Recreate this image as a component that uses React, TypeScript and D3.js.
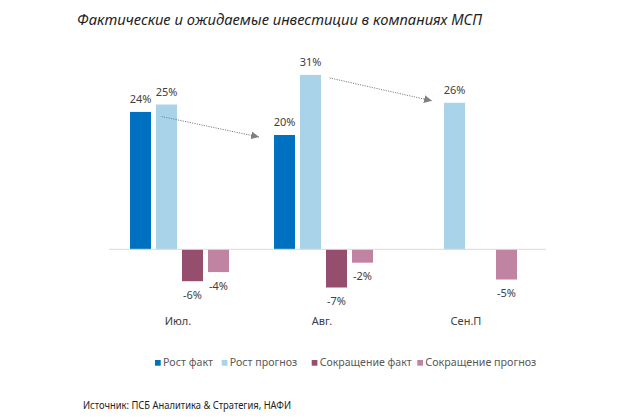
import * as d3 from "d3";

const categories = ["Июл.", "Авг.", "Сен.П"];
const seriesNames = ["Рост факт", "Рост прогноз", "Сокращение факт", "Сокращение прогноз"];
const seriesColors = ["#0070c0", "#a9d3e8", "#964e6e", "#c084a2"];
// values per category, in % (null = no bar)
const rostFakt = [24.1, 20.05, null];
const rostPrognoz = [25.4, 30.6, 25.7];
const sokrFakt = [-5.6, -6.7, null];
const sokrPrognoz = [-4.0, -2.35, -5.3];
const seriesValues = [rostFakt, rostPrognoz, sokrFakt, sokrPrognoz];

// dotted trend arrows: from (category, series) to (category, series)
const arrows = [
  { from: [0, 1], to: [1, 0], dx0: -5, dy0: 12, dx1: -15, dy1: 2 },
  { from: [1, 1], to: [2, 1], dx0: 19, dy0: 3, dx1: -12, dy1: -2 },
];

export default function App() {
  const W = 623;
  const H = 418;

  const x0 = d3.scaleBand<string>().domain(categories).range([107.5, 539.5]);
  const x1 = d3
    .scaleBand<string>()
    .domain(seriesNames)
    .range([22.5, 121.5])
    .paddingInner(0.192);
  const y = d3.scaleLinear().domain([-8, 33]).range([294.9, 61.2]);
  const bw = x1.bandwidth();

  const bars: any[] = [];
  seriesValues.forEach((vals, si) => {
    vals.forEach((v, ci) => {
      if (v == null) return;
      bars.push({ s: seriesNames[si], si, c: categories[ci], v });
    });
  });

  const barX = (ci: number, si: number) => x0(categories[ci])! + x1(seriesNames[si])!;

  const labelFont = "'Noto Sans', 'Open Sans', sans-serif";

  // legend layout
  const legendX = [155, 221.7, 311.7, 417.3];
  const legendW = [50, 67.5, 92, 111];

  return (
    <svg
      width={W}
      height={H}
      style={{ position: "absolute", left: 0, top: 0, background: "#fff" }}
    >
      <defs>
        <marker
          id="arr"
          viewBox="0 0 10 10"
          refX="10"
          refY="5"
          markerWidth="8"
          markerHeight="8"
          markerUnits="userSpaceOnUse"
          orient="auto"
        >
          <path d="M0,0 L10,5 L0,10 z" fill="#7f7f7f" />
        </marker>
      </defs>
      <rect width={W} height={H} fill="#fff" />
      <text
        x={77}
        y={24.5}
        fontFamily={labelFont}
        fontStyle="italic"
        fontSize={14}
        fill="#1e1e1e"
        textLength={405}
        lengthAdjust="spacingAndGlyphs"
      >
        Фактические и ожидаемые инвестиции в компаниях МСП
      </text>

      {bars.map((b, i) => {
        const bx = x0(b.c)! + x1(b.s)!;
        const y0 = y(0);
        const yv = y(b.v);
        return (
          <g key={i}>
            <rect
              x={bx}
              width={bw}
              y={Math.min(y0, yv)}
              height={Math.abs(yv - y0)}
              fill={seriesColors[b.si]}
            />
            <text
              x={bx + bw / 2}
              y={b.v >= 0 ? yv - 9 : yv + 17.5}
              textAnchor="middle"
              fontFamily={labelFont}
              fontSize={11}
              fill="#404040"
            >
              {Math.round(b.v)}%
            </text>
          </g>
        );
      })}

      <line x1={109} x2={546} y1={y(0)} y2={y(0)} stroke="#d9d9d9" strokeWidth={1} />

      {categories.map((c) => (
        <text
          key={c}
          x={x0(c)! + x0.bandwidth() / 2 - 1.5}
          y={324.5}
          textAnchor="middle"
          fontFamily={labelFont}
          fontSize={11}
          fill="#404040"
        >
          {c}
        </text>
      ))}

      {arrows.map((a, i) => {
        const [fc, fs] = a.from;
        const [tc, ts] = a.to;
        const xs = barX(fc, fs) + bw / 2 + a.dx0;
        const ys = y(seriesValues[fs][fc]!) + a.dy0;
        const xe = barX(tc, ts) + a.dx1;
        const ye = y(seriesValues[ts][tc]!) + a.dy1;
        return (
          <line
            key={i}
            x1={xs}
            y1={ys}
            x2={xe}
            y2={ye}
            stroke="#7f7f7f"
            strokeWidth={1}
            strokeDasharray="1.2,1.2"
            markerEnd="url(#arr)"
          />
        );
      })}

      {seriesNames.map((s, i) => (
        <g key={s}>
          <rect x={legendX[i]} y={360} width={5.7} height={5.7} fill={seriesColors[i]} />
          <text
            x={legendX[i] + 8}
            y={365.5}
            fontFamily={labelFont}
            fontSize={11}
            fill="#595959"
            textLength={legendW[i]}
            lengthAdjust="spacingAndGlyphs"
          >
            {s}
          </text>
        </g>
      ))}

      <text
        x={83}
        y={409}
        fontFamily={labelFont}
        fontSize={10}
        fill="#1e1e1e"
        textLength={208}
        lengthAdjust="spacingAndGlyphs"
      >
        Источник: ПСБ Аналитика &amp; Стратегия, НАФИ
      </text>
    </svg>
  );
}
